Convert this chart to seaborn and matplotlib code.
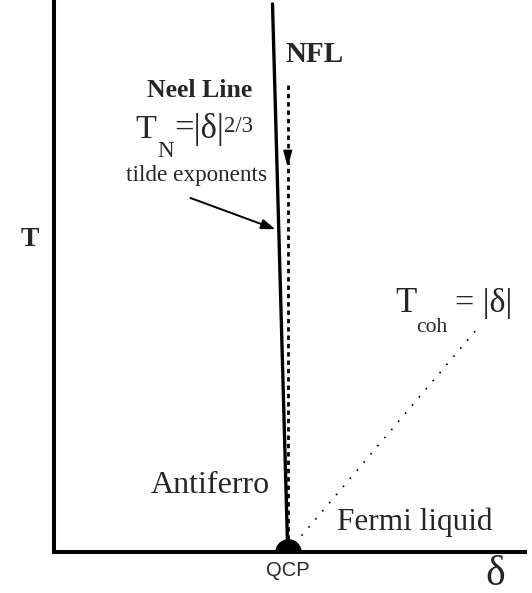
import matplotlib
matplotlib.use("Agg")
import matplotlib.pyplot as plt
import seaborn as sns

# --- DATA (axis units: delta horizontally, T vertically) ---
NEEL_DELTA = [-0.065, 0.0]
NEEL_T = [0.993, 0.0]

NFL_DELTA = [0.0, 0.0]
NFL_T = [0.846, 0.0]
NFL_ARROW_T = [0.728, 0.692]   # tail, tip

COH_DELTA = [0.0, 0.80]
COH_T = [0.0, 0.40]

TILDE_ARROW_DELTA = [-0.426, -0.0415]
TILDE_ARROW_T = [0.643, 0.583]

QCP = (0.0, 0.0)
# ----------------------------------------------------------

W, H = 532, 593
AX_L, AX_R, AX_B, AX_T = 53.5, 525, 552, 0
XMIN, XMAX = -1.0, 1.013


def px(x, y):
    # picture pixel -> data coords, only used to place the labels
    return (XMIN + (x - AX_L) / (AX_R - AX_L) * (XMAX - XMIN),
            (AX_B - y) / (AX_B - AX_T))


sns.set_style("white")
plt.rcParams['font.family'] = ['Liberation Serif', 'DejaVu Serif']

fig = plt.figure(figsize=(W / 100, H / 100), dpi=100)
ax = fig.add_axes([AX_L / W, (H - AX_B) / H, (AX_R - AX_L) / W, (AX_B - AX_T) / H])

sns.lineplot(x=NEEL_DELTA, y=NEEL_T, ax=ax, color='black', lw=2.4,
             sort=False, estimator=None)
sns.lineplot(x=NFL_DELTA, y=NFL_T, ax=ax, color='black', lw=2.0,
             sort=False, estimator=None, linestyle=(0, (1.6, 1.4)))
sns.lineplot(x=COH_DELTA, y=COH_T, ax=ax, color='black', lw=1.2,
             sort=False, estimator=None, linestyle=(0, (1, 5.4)))
ax.scatter([QCP[0]], [QCP[1]], s=330, color='black', zorder=5, clip_on=True)

ax.set_xlim(XMIN, XMAX)
ax.set_ylim(0, 1.0)

for side in ['top', 'right']:
    ax.spines[side].set_visible(False)
for side in ['left', 'bottom']:
    ax.spines[side].set_linewidth(2.9)
    ax.spines[side].set_color('black')
    ax.spines[side].set_zorder(6)
ax.set_xticks([])
ax.set_yticks([])

ax.annotate('', xy=(NFL_DELTA[0], NFL_ARROW_T[1]), xytext=(NFL_DELTA[0], NFL_ARROW_T[0]),
            arrowprops=dict(arrowstyle='-|>,head_length=0.8,head_width=0.22',
                            color='black', lw=1.3, mutation_scale=12))
ax.annotate('', xy=(TILDE_ARROW_DELTA[1], TILDE_ARROW_T[1]),
            xytext=(TILDE_ARROW_DELTA[0], TILDE_ARROW_T[0]),
            arrowprops=dict(arrowstyle='-|>,head_length=0.7,head_width=0.25',
                            color='black', lw=1.4, mutation_scale=12))

kw = dict(clip_on=False, va='baseline')
ax.text(*px(30, 240), 'T', fontsize=20, fontweight='bold', ha='center', va='center',
        clip_on=False)
ax.text(*px(315, 55), 'NFL', fontsize=21, fontweight='bold', ha='center', va='center',
        clip_on=False)
ax.text(*px(252, 97), 'Neel Line', fontsize=18.5, fontweight='bold', ha='right', **kw)

# T_N = |δ|^{2/3}, set piece by piece like the original layout
ax.text(*px(135, 138), 'T', fontsize=24.5, ha='left', **kw)
ax.text(*px(157, 157), 'N', fontsize=16.5, ha='left', **kw)
ax.text(*px(174, 138), '=|δ|', fontsize=25, ha='left', **kw)
ax.text(*px(224, 132), '2/3', fontsize=16.3, ha='left', **kw)

ax.text(*px(197, 181), 'tilde exponents', fontsize=16.7, ha='center', **kw)
ax.text(*px(270, 493), 'Antiferro', fontsize=23, ha='right', **kw)
ax.text(*px(415, 530), 'Fermi liquid', fontsize=22.5, ha='center', **kw)

# T_coh = |δ|
ax.text(*px(395, 312), 'T', fontsize=25, ha='left', **kw)
ax.text(*px(416, 332), 'coh', fontsize=15.5, ha='left', **kw)
ax.text(*px(455, 312), '= |δ|', fontsize=24.5, ha='left', **kw)

ax.text(*px(288, 570), 'QCP', fontsize=14.5, family='Liberation Sans', ha='center',
        va='center', clip_on=False)
ax.text(*px(495, 575), 'δ', fontsize=30, ha='center', va='center', clip_on=False)

fig.savefig('out.png', dpi=100)
